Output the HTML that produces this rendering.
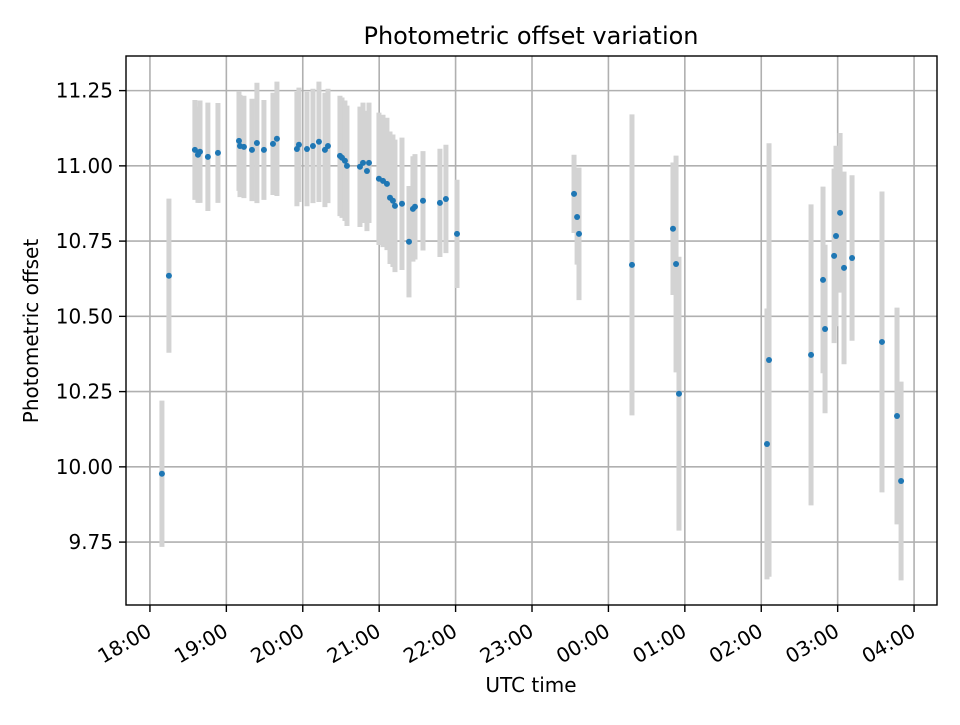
<!DOCTYPE html>
<html><head><meta charset="utf-8"><style>
body{margin:0;background:#fff}
svg text{font-family:"DejaVu Sans","Liberation Sans",sans-serif;fill:#000}
</style></head><body>
<svg id="chart" width="960" height="720" viewBox="0 0 960 720" xmlns="http://www.w3.org/2000/svg">
<rect width="960" height="720" fill="#fff"/>
<g id="grid"></g>
<g id="bars"></g>
<g id="points"></g>
<rect x="126" y="56" width="811" height="549" fill="none" stroke="#000" stroke-width="1.4"/>
<g id="ticks"></g>
<text x="531" y="44" font-size="24" text-anchor="middle">Photometric offset variation</text>
<text x="531" y="692" font-size="20" text-anchor="middle">UTC time</text>
<text transform="translate(38,331) rotate(-90)" font-size="20" text-anchor="middle">Photometric offset</text>
</svg>
<script>
// minutes after 18:00 UTC
const times=[9.4,14.9,35.3,37.7,39.3,45.5,53.4,69.9,70.7,73.8,80.1,84.0,89.5,96.6,99.7,115.4,117.0,123.3,128.0,132.7,137.4,139.8,149.2,150.8,153.1,154.7,164.9,167.3,170.4,172.0,179.8,183.0,186.1,188.5,190.8,192.4,197.9,203.4,206.5,208.1,214.4,227.7,232.4,241.1,333.0,335.4,336.9,378.5,410.7,413.1,415.4,484.5,486.1,519.1,528.5,530.1,537.2,538.7,541.9,545.0,551.3,574.8,586.6,589.8];
const offsets=[9.977,10.635,11.053,11.037,11.047,11.03,11.043,11.083,11.066,11.063,11.053,11.076,11.053,11.073,11.09,11.056,11.07,11.056,11.066,11.08,11.053,11.066,11.033,11.027,11.017,11.0,10.997,11.01,10.983,11.01,10.957,10.95,10.94,10.894,10.884,10.867,10.874,10.748,10.857,10.864,10.884,10.877,10.89,10.774,10.907,10.83,10.774,10.671,10.791,10.674,10.243,10.076,10.355,10.372,10.621,10.458,10.701,10.767,10.844,10.661,10.694,10.415,10.169,9.953];
const errors=[0.243,0.256,0.166,0.16,0.17,0.18,0.166,0.166,0.17,0.17,0.17,0.2,0.166,0.17,0.19,0.19,0.19,0.19,0.19,0.2,0.19,0.19,0.2,0.2,0.2,0.2,0.2,0.2,0.2,0.2,0.22,0.22,0.22,0.22,0.22,0.22,0.22,0.185,0.175,0.175,0.165,0.18,0.18,0.18,0.13,0.158,0.22,0.5,0.22,0.36,0.455,0.45,0.72,0.5,0.31,0.28,0.29,0.3,0.265,0.32,0.275,0.5,0.36,0.33];
const yTicks=[9.75,10.0,10.25,10.5,10.75,11.0,11.25];
const yTickLabels=["9.75","10.00","10.25","10.50","10.75","11.00","11.25"];
const xTicks=[0,60,120,180,240,300,360,420,480,540,600];
const xTickLabels=["18:00","19:00","20:00","21:00","22:00","23:00","00:00","01:00","02:00","03:00","04:00"];

const NS="http://www.w3.org/2000/svg";
const X0=126,X1=937,Y0=56,Y1=605;
const xMin=-18.8,xMax=618,yMin=9.541,yMax=11.365;
function xs(m){return X0+(m-xMin)/(xMax-xMin)*(X1-X0);}
function ys(v){return Y1-(v-yMin)/(yMax-yMin)*(Y1-Y0);}
function mk(tag,attrs,parent){const e=document.createElementNS(NS,tag);for(const k in attrs)e.setAttribute(k,attrs[k]);parent.appendChild(e);return e;}
const grid=document.getElementById('grid'),ticks=document.getElementById('ticks');
const bars=document.getElementById('bars'),pts=document.getElementById('points');
yTicks.forEach((v,i)=>{
  const y=ys(v);
  const g=mk('line',{x1:X0,x2:X1,y1:y,y2:y,stroke:'#b0b0b0','stroke-width':1.6},grid);
  
  
  const t=mk('line',{x1:X0-7,x2:X0,y1:y,y2:y,stroke:'#000','stroke-width':1.4},ticks);
  
  
  const l=mk('text',{x:X0-13,y:y+7,'font-size':20,'text-anchor':'end'},ticks);
  l.textContent=yTickLabels[i];
  
  
});
xTicks.forEach((m,i)=>{
  const x=xs(m);
  const g=mk('line',{x1:x,x2:x,y1:Y0,y2:Y1,stroke:'#b0b0b0','stroke-width':1.6},grid);
  
  
  const t=mk('line',{x1:x,x2:x,y1:Y1,y2:Y1+7,stroke:'#000','stroke-width':1.4},ticks);
  
  
  const l=mk('text',{transform:`translate(${x+3},${Y1+30}) rotate(-30)`,'font-size':20,'text-anchor':'end'},ticks);
  l.textContent=xTickLabels[i];
  
  
});
times.forEach((m,i)=>{
  const x=xs(m);
  const b=mk('line',{x1:x,x2:x,y1:ys(offsets[i]+errors[i]),y2:ys(offsets[i]-errors[i]),stroke:'#d3d3d3','stroke-width':5},bars);
  
  
  const c=mk('circle',{cx:x,cy:ys(offsets[i]),r:3,fill:'#1f77b4'},pts);
  
  
});
</script>
</body></html>
